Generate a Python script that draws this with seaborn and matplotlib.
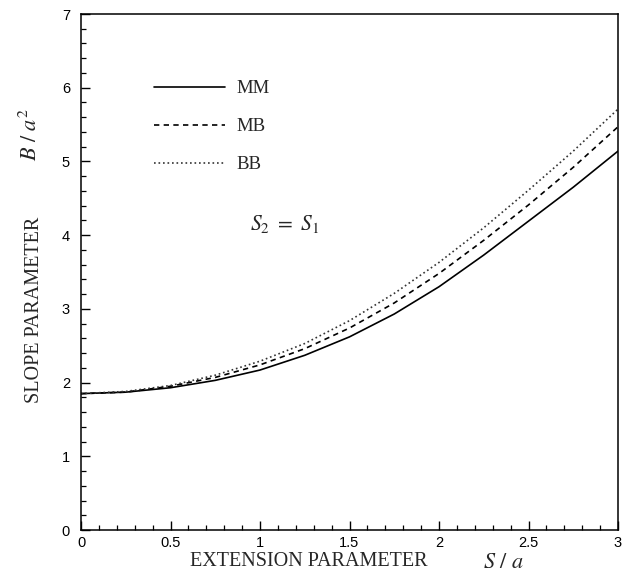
import numpy as np
import pandas as pd
import matplotlib
matplotlib.use("Agg")
import matplotlib.pyplot as plt
import seaborn as sns

# Slope parameter B/a^2 versus extension parameter S/a (S2 = S1)
extension = [0.0, 0.25, 0.5, 0.75, 1.0, 1.25, 1.5, 1.75, 2.0, 2.25, 2.5, 2.75, 3.0]
slope_mm = [1.85, 1.87, 1.93, 2.03, 2.17, 2.37, 2.62, 2.93, 3.30, 3.73, 4.19, 4.65, 5.14]
slope_mb = [1.85, 1.87, 1.95, 2.07, 2.24, 2.46, 2.74, 3.08, 3.48, 3.93, 4.41, 4.92, 5.47]
slope_bb = [1.85, 1.88, 1.96, 2.10, 2.29, 2.53, 2.84, 3.21, 3.63, 4.10, 4.61, 5.14, 5.71]
pair_labels = ["MM", "MB", "BB"]

df = pd.concat([
    pd.DataFrame({"S": extension, "B": vals, "pair": lab})
    for lab, vals in zip(pair_labels, [slope_mm, slope_mb, slope_bb])
], ignore_index=True)

sns.set_style("ticks")
plt.rcParams["mathtext.fontset"] = "stix"
plt.rcParams["font.family"] = ["Liberation Sans", "DejaVu Sans"]

fig = plt.figure(figsize=(6.36, 5.73), dpi=100)
ax = fig.add_axes([81 / 636, 1 - 530 / 573, 537 / 636, 516 / 573])

sns.lineplot(
    data=df, x="S", y="B", hue="pair", style="pair",
    palette={"MM": "black", "MB": "black", "BB": "#333333"},
    dashes={"MM": "", "MB": (3.2, 2.6), "BB": (1.0, 1.7)},
    linewidth=1.2, ax=ax,
)

ax.set_xlim(0, 3)
ax.set_ylim(0, 7)
ax.set_xticks([0, 0.5, 1, 1.5, 2, 2.5, 3])
ax.set_xticklabels(["0", "0.5", "1", "1.5", "2", "2.5", "3"])
ax.set_yticks(range(0, 8))
ax.set_xticks(np.arange(0, 3.01, 0.1), minor=True)
ax.set_yticks(np.arange(0, 7.01, 0.2), minor=True)
ax.tick_params(axis="both", which="major", direction="in", length=6.5, width=1.0,
               labelsize=10.5, color="black", labelcolor="black")
ax.tick_params(axis="both", which="minor", direction="in", length=3.5, width=0.9,
               color="black")
ax.tick_params(axis="y", which="major", pad=8)
ax.tick_params(axis="x", which="major", pad=4.5)
for sp in ax.spines.values():
    sp.set_visible(True)
    sp.set_linewidth(1.1)
    sp.set_color("black")

ax.set_xlabel("")
ax.set_ylabel("")

serif = ["Liberation Serif", "DejaVu Serif"]
fig.text(309 / 636, 1 - 562 / 573, "EXTENSION PARAMETER", family=serif,
         fontsize=14.5, ha="center", va="center")
fig.text(503 / 636, 1 - 562 / 573, r"$S\ /\ a$", fontsize=16,
         ha="center", va="center")
fig.text(35 / 636, 1 - 310 / 573, "SLOPE PARAMETER", family=serif,
         fontsize=14.5, ha="center", va="center", rotation=90)
fig.text(31 / 636, 1 - 135 / 573, r"$B\ /\ a^2$", fontsize=16,
         ha="center", va="center", rotation=90)

ax.text(0.945, 4.15, r"$S_2\ =\ S_1$", fontsize=15.5, ha="left", va="center")

handles, labels = ax.get_legend_handles_labels()
leg = ax.legend(handles, labels, loc="upper left", bbox_to_anchor=(0.136, 0.872),
                frameon=False, handlelength=3.8, handletextpad=0.6,
                labelspacing=1.12, borderpad=0, borderaxespad=0,
                prop={"family": serif, "size": 13.5})

fig.savefig("out.png", dpi=100)
